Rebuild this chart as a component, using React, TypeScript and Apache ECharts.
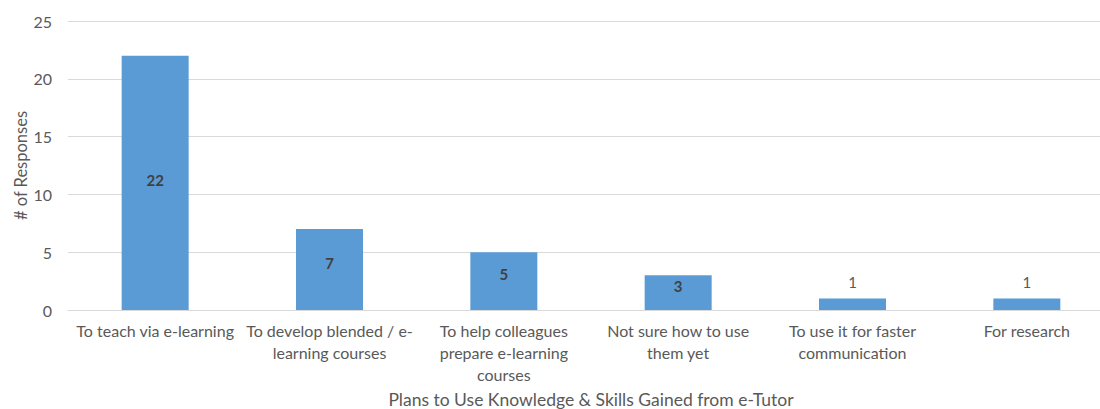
import React, { useEffect, useRef } from "react";
import * as echarts from "echarts";

const categories = [
  "To teach via e-learning",
  "To develop blended / e-\nlearning courses",
  "To help colleagues\nprepare e-learning\ncourses",
  "Not sure how to use\nthem yet",
  "To use it for faster\ncommunication",
  "For research",
];
const responses = [22, 7, 5, 3, 1, 1];
const xAxisTitle = "Plans to Use Knowledge & Skills Gained from e-Tutor";
const yAxisTitle = "# of Responses";

const FONT = "Lato, 'Open Sans', sans-serif";
const TEXT = "#595959";

export default function App() {
  const ref = useRef<HTMLDivElement>(null);
  useEffect(() => {
    document.body.style.margin = "0";
    const chart = echarts.init(ref.current!, undefined, { renderer: "svg" });
    const data = responses.map((v) => {
      if (v >= 3) {
        return {
          value: v,
          label: {
            show: true,
            position: "inside",
            offset: [0, v > 10 ? -3 : -7],
            fontWeight: "bold",
            color: "#404040",
            fontSize: 15,
            fontFamily: FONT,
          },
        };
      }
      return {
        value: v,
        label: {
          show: true,
          position: "top",
          distance: 9,
          color: TEXT,
          fontSize: 15,
          fontFamily: FONT,
        },
      };
    });
    chart.setOption({
      animation: false,
      textStyle: { fontFamily: FONT },
      grid: {
        left: 68,
        top: 21,
        width: 1046,
        height: 289,
        containLabel: false,
        outerBoundsMode: "none",
      },
      xAxis: {
        type: "category",
        data: categories,
        axisLine: { show: true, lineStyle: { color: "#D9D9D9", width: 1 } },
        axisTick: { show: false },
        axisLabel: {
          color: TEXT,
          fontSize: 16,
          fontFamily: FONT,
          margin: 15,
          lineHeight: 22,
          interval: 0,
          verticalAlign: "top",
          padding: [-6, 0, 0, 0],
        },
        name: xAxisTitle,
        nameLocation: "middle",
        nameGap: 80,
        nameMoveOverlap: false,
        nameTextStyle: { color: TEXT, fontSize: 17.5, fontFamily: FONT },
      },
      yAxis: {
        type: "value",
        min: 0,
        max: 25,
        interval: 5,
        axisLine: { show: false },
        axisTick: { show: false },
        splitLine: { lineStyle: { color: "#D9D9D9", width: 1 } },
        axisLabel: { color: TEXT, fontSize: 16, fontFamily: FONT, margin: 16 },
        name: yAxisTitle,
        nameLocation: "middle",
        nameGap: 39,
        nameRotate: 90,
        nameMoveOverlap: false,
        nameTextStyle: { color: TEXT, fontSize: 16.5, fontFamily: FONT },
      },
      series: [
        {
          type: "bar",
          data,
          barWidth: 67,
          itemStyle: { color: "#5B9BD5" },
        },
      ],
    });
    return () => chart.dispose();
  }, []);
  return (
    <div style={{ position: "relative", width: 1100, height: 409, overflow: "hidden" }}>
      <div ref={ref} style={{ width: 1100, height: 409 }} />
    </div>
  );
}
